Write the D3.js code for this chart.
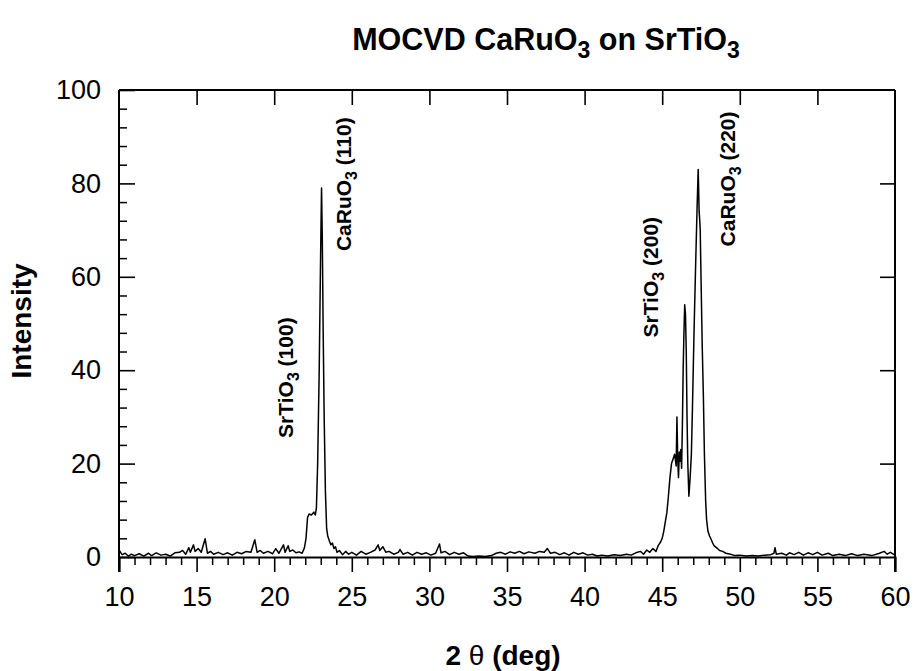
<!DOCTYPE html>
<html>
<head>
<meta charset="utf-8">
<script src="https://cdn.jsdelivr.net/npm/d3@7"></script>
<style>
  body { margin: 0; background: #fff; }
  svg { display: block; }
  text { font-family: "Liberation Sans", Arial, Helvetica, sans-serif; fill: #000; }
</style>
</head>
<body>
<svg id="chart" width="915" height="671"></svg>
<script>
// ---- data ----
const twoTheta = [
  10.0,10.2,10.4,10.6,10.8,11.0,11.3,11.6,11.9,12.1,12.4,12.7,13.0,13.3,13.6,13.9,14.1,14.3,14.5,14.6,
  14.8,14.9,15.1,15.3,15.55,15.7,15.9,16.1,16.4,16.7,17.0,17.3,17.6,17.9,18.2,18.5,18.75,18.9,19.1,19.3,
  19.6,19.9,20.1,20.3,20.6,20.7,20.9,21.0,21.2,21.4,21.6,21.8,21.95,22.05,22.15,22.25,22.4,22.55,22.65,22.72,
  22.8,22.9,22.98,23.05,23.1,23.15,23.22,23.3,23.38,23.45,23.55,23.65,23.75,23.85,23.95,24.05,24.2,24.4,24.6,24.8,
  25.0,25.3,25.6,25.9,26.2,26.5,26.7,26.8,27.0,27.2,27.4,27.7,28.0,28.1,28.3,28.6,28.9,29.2,29.5,29.8,
  30.1,30.4,30.65,30.75,31.0,31.3,31.6,31.9,32.2,32.5,32.8,33.2,33.6,34.0,34.3,34.6,34.9,35.2,35.5,35.8,
  36.1,36.4,36.8,37.1,37.4,37.6,37.8,38.1,38.4,38.7,39.0,39.3,39.6,39.9,40.2,40.5,40.8,41.1,41.5,41.9,
  42.3,42.7,43.0,43.3,43.6,43.8,44.0,44.2,44.4,44.6,44.75,44.9,45.0,45.1,45.2,45.3,45.4,45.5,45.6,45.7,
  45.8,45.9,45.95,46.0,46.05,46.1,46.15,46.2,46.25,46.3,46.35,46.4,46.45,46.5,46.55,46.6,46.65,46.72,46.8,46.88,
  46.95,47.05,47.15,47.25,47.32,47.38,47.42,47.45,47.5,47.58,47.65,47.72,47.8,47.86,47.95,48.05,48.15,48.25,48.35,48.5,
  48.7,48.9,49.1,49.4,49.7,50.0,50.4,50.8,51.2,51.6,52.0,52.2,52.27,52.35,52.7,53.0,53.2,53.5,53.8,54.1,
  54.4,54.7,55.0,55.3,55.7,56.0,56.4,56.8,57.2,57.6,58.0,58.5,59.0,59.3,59.5,59.7,60.0
];
const intensity = [
  1.5,0.5,0.8,0.2,0.6,0.3,0.7,0.2,0.8,0.3,0.9,0.4,0.6,0.2,0.9,1.0,1.4,0.6,2.0,1.0,
  2.6,1.2,1.8,1.0,3.9,0.8,1.2,0.6,1.0,0.5,0.9,0.4,1.0,0.7,1.2,1.0,3.7,1.0,1.4,0.8,
  1.2,0.7,1.8,0.8,2.6,1.0,2.4,1.2,1.5,0.9,1.1,0.8,2.0,4.0,8.5,9.2,9.0,9.6,9.0,10.5,
  20,40,62,79,68,50,30,14,6,4.5,3.5,2.6,3.0,1.8,2.2,1.0,1.4,0.5,1.2,0.6,
  1.0,0.4,1.2,0.6,1.0,1.5,2.6,1.4,2.2,1.0,1.2,0.6,1.0,1.6,0.6,1.0,0.4,1.0,0.6,0.9,
  0.4,0.8,2.8,0.9,1.2,0.5,1.0,0.6,0.9,0.2,0.1,0.2,0.1,0.3,0.8,1.0,0.6,1.1,0.8,1.2,
  0.7,1.1,0.8,1.2,1.0,1.8,0.8,1.0,0.5,0.9,0.4,1.0,0.6,0.9,0.4,0.6,0.2,0.4,0.2,0.5,
  0.3,0.6,0.4,0.9,1.2,0.6,1.5,1.0,1.8,1.2,2.5,3.2,4.0,5.5,7.5,9.5,13,17,20,21,
  22,19.5,30,21,17,22.5,20.5,23,19,28,40,48,54,52,44,30,20,13,17,22,
  32,48,62,75,83,74,72,70,60,45,35,22,12,8,5.5,4.5,3.8,3.0,2.4,2.0,
  1.4,1.2,0.8,0.6,0.3,0.4,0.2,0.3,0.2,0.4,0.5,0.8,2.0,0.6,0.8,0.4,0.9,0.5,1.0,0.4,
  0.9,0.5,1.0,0.4,0.8,0.3,0.6,0.3,0.7,0.3,0.6,0.3,0.8,1.2,0.6,1.0,0.4
];
const xTicks = [10,15,20,25,30,35,40,45,50,55,60];
const yTicks = [0,20,40,60,80,100];
const peakLabels = [
  { formula: "SrTiO", sub: "3", hkl: "(100)", at: 21.2, y0: 25.5 },
  { formula: "CaRuO", sub: "3", hkl: "(110)", at: 24.95, y0: 65.5 },
  { formula: "SrTiO", sub: "3", hkl: "(200)", at: 44.75, y0: 47 },
  { formula: "CaRuO", sub: "3", hkl: "(220)", at: 49.7, y0: 66.5 }
];

// ---- layout ----
const svg = d3.select("#chart");
const L = 119, R = 895, T = 90, B = 557;
const x = d3.scaleLinear().domain([10, 60]).range([L, R]);
const y = d3.scaleLinear().domain([0, 100]).range([B, T]);

// frame top / left / right
svg.append("line").attr("x1", L).attr("x2", R).attr("y1", T).attr("y2", T)
  .attr("stroke", "#000").attr("stroke-width", 2);
svg.append("line").attr("x1", L).attr("x2", L).attr("y1", T).attr("y2", B + 15)
  .attr("stroke", "#000").attr("stroke-width", 2);
svg.append("line").attr("x1", R).attr("x2", R).attr("y1", T).attr("y2", B + 15)
  .attr("stroke", "#000").attr("stroke-width", 2);

// bottom axis (ticks outward)
const gx = svg.append("g").attr("transform", `translate(0,${B})`)
  .call(d3.axisBottom(x).tickValues(xTicks).tickSize(15).tickPadding(15).tickFormat(d3.format("d")));
gx.select(".domain").attr("stroke-width", 2);
gx.selectAll(".tick line").attr("stroke-width", 1.6);
gx.selectAll("text").style("font-size", "27px");
const gxm = svg.append("g").attr("transform", `translate(0,${B})`)
  .call(d3.axisBottom(x).tickValues(d3.range(10, 61, 1).filter(v => v % 5 !== 0)).tickSize(8).tickFormat(""));
gxm.select(".domain").remove();
gxm.selectAll(".tick line").attr("stroke-width", 1.5);

// top axis major ticks inward
const gt = svg.append("g").attr("transform", `translate(0,${T})`)
  .call(d3.axisTop(x).tickValues(xTicks.slice(1, -1)).tickSize(-15).tickFormat(""));
gt.select(".domain").remove();
gt.selectAll(".tick line").attr("stroke-width", 1.6);

// left axis (ticks inward)
const gy = svg.append("g").attr("transform", `translate(${L},0)`)
  .call(d3.axisLeft(y).tickValues(yTicks).tickSize(-16).tickPadding(18).tickFormat(d3.format("d")));
gy.select(".domain").remove();
gy.selectAll(".tick line").attr("stroke-width", 1.6);
gy.selectAll("text").style("font-size", "27px");
const gym = svg.append("g").attr("transform", `translate(${L},0)`)
  .call(d3.axisLeft(y).tickValues(d3.range(0, 101, 4).filter(v => v % 20 !== 0)).tickSize(-8).tickFormat(""));
gym.select(".domain").remove();
gym.selectAll(".tick line").attr("stroke-width", 1.5);

// right axis major ticks inward
const gr = svg.append("g").attr("transform", `translate(${R},0)`)
  .call(d3.axisRight(y).tickValues(yTicks.slice(1, -1)).tickSize(-15).tickFormat(""));
gr.select(".domain").remove();
gr.selectAll(".tick line").attr("stroke-width", 1.6);

// data line
const pts = twoTheta.map((t, i) => [t, intensity[i]]);
svg.append("path").datum(pts)
  .attr("fill", "none").attr("stroke", "#000").attr("stroke-width", 1.5)
  .attr("stroke-linejoin", "round")
  .attr("d", d3.line().x(d => x(d[0])).y(d => y(d[1])));

// peak labels (rotated)
peakLabels.forEach(p => {
  const t = svg.append("text")
    .attr("transform", `translate(${x(p.at)},${y(p.y0)}) rotate(-90)`)
    .style("font-size", "21px").style("font-weight", "bold");
  t.append("tspan").text(p.formula);
  t.append("tspan").text(p.sub).attr("dy", 6).style("font-size", "16px");
  t.append("tspan").text(" " + p.hkl).attr("dy", -6);
});

// title
const title = svg.append("text").attr("x", 546).attr("y", 50).attr("text-anchor", "middle")
  .style("font-size", "30.5px").style("font-weight", "bold");
title.append("tspan").text("MOCVD CaRuO");
title.append("tspan").text("3").attr("dy", 8).style("font-size", "23px");
title.append("tspan").text(" on SrTiO").attr("dy", -8);
title.append("tspan").text("3").attr("dy", 8).style("font-size", "23px");

// axis titles
const xt = svg.append("text").attr("x", 503).attr("y", 665).attr("text-anchor", "middle")
  .style("font-size", "28px").style("font-weight", "bold");
xt.append("tspan").text("2 ");
xt.append("tspan").text("θ").style("font-weight", "normal");
xt.append("tspan").text(" (deg)");

svg.append("text").attr("transform", "translate(31,321) rotate(-90)").attr("text-anchor", "middle")
  .style("font-size", "28px").style("font-weight", "bold").text("Intensity");
</script>
</body>
</html>
